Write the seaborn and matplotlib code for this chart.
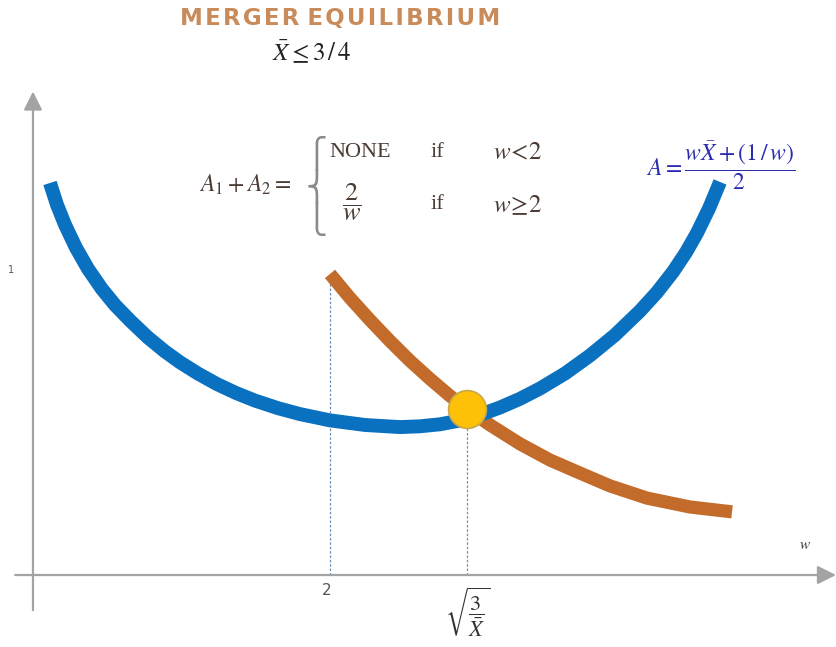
import matplotlib
matplotlib.use("Agg")
import matplotlib.pyplot as plt
import seaborn as sns
import pandas as pd

# ---- data (w, A) ----
blue_w = [0.1145, 0.1616, 0.2155, 0.2896, 0.3704, 0.4646, 0.5522, 0.6532, 0.7744, 0.8889,
          0.9899, 1.1111, 1.2391, 1.3670, 1.4949, 1.6498, 1.7980, 2.0000, 2.2357, 2.4714,
          2.6061, 2.7407, 2.8754, 3.0101, 3.1448, 3.2795, 3.4141, 3.5825, 3.7508, 3.9192,
          4.0875, 4.2020, 4.3098, 4.3973, 4.4714, 4.5522, 4.6263]
blue_A = [1.2852, 1.2141, 1.1485, 1.0728, 1.0039, 0.9374, 0.8852, 0.8344, 0.7784, 0.7328,
          0.6974, 0.6603, 0.6259, 0.5967, 0.5718, 0.5469, 0.5275, 0.5069, 0.4918, 0.4849,
          0.4875, 0.4941, 0.5066, 0.5252, 0.5492, 0.5777, 0.6115, 0.6607, 0.7197, 0.7869,
          0.8656, 0.9269, 0.9941, 1.0580, 1.1213, 1.2020, 1.2885]

brown_w = [2.000, 2.135, 2.269, 2.404, 2.539, 2.673, 2.808, 2.923, 3.077, 3.279,
           3.481, 3.684, 3.886, 4.135, 4.424, 4.707]
brown_A = [0.987, 0.908, 0.836, 0.767, 0.702, 0.643, 0.587, 0.544, 0.492, 0.430,
           0.377, 0.334, 0.292, 0.252, 0.223, 0.207]

eq_w = [2.923]
eq_A = [0.544]

tick_w = [2.000, 2.923]
tick_labels = ["2", r"$\sqrt{\dfrac{3}{\bar{X}}}$"]
y_tick = 1.0

sns.set_style("white")
plt.rcParams["mathtext.fontset"] = "stix"

fig = plt.figure(figsize=(8.36, 6.47), dpi=100)
ax = fig.add_axes([0, 0, 1, 1])
ax.set_xlim(-0.222, 5.407)
ax.set_ylim(-0.236, 1.885)
ax.axis("off")

blue_df = pd.DataFrame({"w": blue_w, "A": blue_A})
brown_df = pd.DataFrame({"w": brown_w, "A": brown_A})
eq_df = pd.DataFrame({"w": eq_w, "A": eq_A})

# axes with arrows
axis_col = "#c2c2c2"
head_col = "#a3a3a3"
ax.annotate("", xy=(5.407, 0), xytext=(-0.12, 0),
            arrowprops=dict(arrowstyle="-|>", color=axis_col, lw=1.6,
                            mutation_scale=28, fc=head_col, ec=head_col, shrinkA=0, shrinkB=0))
ax.annotate("", xy=(0, 1.585), xytext=(0, -0.115),
            arrowprops=dict(arrowstyle="-|>", color=axis_col, lw=1.6,
                            mutation_scale=28, fc=head_col, ec=head_col, shrinkA=0, shrinkB=0))

# dashed drop lines
ax.plot([tick_w[0], tick_w[0]], [0, brown_A[0]], ls=(0, (2, 1.5)), color="#6f8db5", lw=0.9, zorder=1)
ax.plot([tick_w[1], tick_w[1]], [0, eq_A[0]], ls=(0, (2, 1.5)), color="#7d8fa8", lw=0.9, zorder=1)

sns.lineplot(data=brown_df, x="w", y="A", sort=False, ax=ax, color="#c26b2b",
             lw=9.5, solid_capstyle="butt", zorder=2)
sns.lineplot(data=blue_df, x="w", y="A", sort=False, ax=ax, color="#0a70c0",
             lw=10, solid_capstyle="butt", zorder=3)
sns.scatterplot(data=eq_df, x="w", y="A", ax=ax, s=740, color="#ffc107",
                edgecolor="#c9a84a", linewidth=1.2, zorder=5)
ax.set_xlabel("")
ax.set_ylabel("")

# tick labels
ax.text(tick_w[0] - 0.02, -0.05, tick_labels[0], ha="center", va="center",
        fontsize=11, color="#555555", family="DejaVu Sans")
ax.text(tick_w[1], -0.122, tick_labels[1], ha="center", va="center",
        fontsize=16, color="#333333")
ax.text(-0.15, y_tick, "1", ha="center", va="center", fontsize=7, color="#555555")
ax.text(5.2, 0.10, r"$w$", ha="center", va="center", fontsize=11, color="#333333")

# title
hs = "\u200a"
title = hs.join(list("MERGER")) + " " + hs.join(list("EQUILIBRIUM"))
ax.text(2.07, 1.825, title, ha="center", va="center", fontsize=16.5,
        fontweight="bold", color="#c98b5a", family="DejaVu Sans")
ax.text(1.88, 1.715, r"$\bar{X} \leq 3\,/\,4$", ha="center", va="center", fontsize=18, color="#222222")

# piecewise formula
fcol = "#4b3b33"
ax.text(1.43, 1.28, r"$A_1 + A_2 =$", ha="center", va="center", fontsize=17, color=fcol)
ax.text(1.91, 1.275, "\u23a7\n\u23a8\n\u23a9", ha="center", va="center", fontsize=21,
        color="#8a8a8a", family=["DejaVu Sans", "DejaVu Serif", "Noto Sans"], linespacing=0.95)
ax.text(2.20, 1.385, "NONE", ha="center", va="center", fontsize=16, color=fcol, family="Liberation Serif")
ax.text(2.72, 1.385, "if", ha="center", va="center", fontsize=16, color=fcol, family="Liberation Serif")
ax.text(3.26, 1.385, r"$w\!<\!2$", ha="center", va="center", fontsize=18, color=fcol)
ax.text(2.15, 1.22, r"$\dfrac{2}{w}$", ha="center", va="center", fontsize=19, color=fcol)
ax.text(2.72, 1.213, "if", ha="center", va="center", fontsize=16, color=fcol, family="Liberation Serif")
ax.text(3.26, 1.213, r"$w\!\geq\!2$", ha="center", va="center", fontsize=18, color=fcol)

# blue formula
ax.text(4.63, 1.34, r"$A = \dfrac{w\bar{X} + (1\,/\,w)}{2}$", ha="center", va="center",
        fontsize=17, color="#2b2bb0")

fig.savefig("out.png", dpi=100, facecolor="white")
